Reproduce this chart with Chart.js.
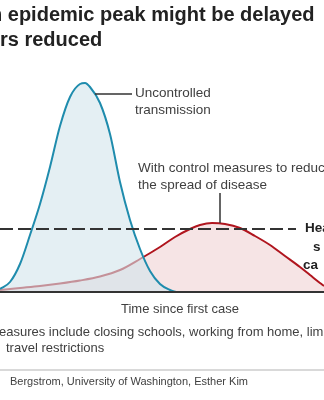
<!DOCTYPE html>
<html>
<head>
<meta charset="utf-8">
<script src="https://cdn.jsdelivr.net/npm/chart.js@4.4.1/dist/chart.umd.min.js"></script>
<style>
  html, body { margin: 0; padding: 0; background: #fff; }
  #wrap { position: relative; width: 324px; height: 400px; }
</style>
</head>
<body>
<div id="wrap"><canvas id="c" width="324" height="400"></canvas></div>
<script>
// Time axis (arbitrary units since first case)
const timeUncontrolled = [0, 10, 20, 30, 40, 50, 60, 70, 80, 85, 90, 100, 110, 120, 130, 140, 150, 160, 170, 176];
const casesUncontrolled = [3, 10, 28, 57, 88, 125, 166, 195, 208, 209, 205, 189, 158, 110, 72, 43, 21, 8, 2, 0];

const timeControlled = [0, 20, 40, 60, 80, 100, 120, 140, 160, 175, 190, 200, 212, 225, 240, 255, 270, 285, 300, 310, 320, 324];
const casesControlled = [2, 4, 6, 8.5, 11.5, 15.5, 22, 33, 45, 55, 63, 67, 69, 68, 64, 56, 47, 36, 25, 17, 9, 6];

// Healthcare system capacity level
const capacityTime = [0, 296];
const capacityLevel = [63, 63];

const toPoints = (xs, ys) => xs.map((x, i) => ({ x: x, y: ys[i] }));

const INK = '#333333';
const TEXT = '#404040';

const overlay = {
  id: 'overlay',
  afterDatasetsDraw(chart) {
    const { ctx } = chart;
    const xs = chart.scales.x, ys = chart.scales.y;
    const px = v => xs.getPixelForValue(v);
    const py = v => ys.getPixelForValue(v);
    ctx.save();
    // baseline
    ctx.strokeStyle = INK;
    ctx.lineWidth = 2;
    ctx.beginPath();
    ctx.moveTo(0, py(0));
    ctx.lineTo(chart.width, py(0));
    ctx.stroke();
    // annotation leaders
    ctx.lineWidth = 1.5;
    ctx.beginPath();
    ctx.moveTo(px(95), py(198));
    ctx.lineTo(px(132), py(198));
    ctx.moveTo(px(220), py(69));
    ctx.lineTo(px(220), py(99));
    ctx.stroke();
    ctx.restore();
  },
  afterDraw(chart) {
    const { ctx } = chart;
    ctx.save();
    ctx.textBaseline = 'alphabetic';
    ctx.fillStyle = '#222222';
    ctx.font = 'bold 20px "Liberation Sans", Arial, sans-serif';
    ctx.textAlign = 'left';
    ctx.fillText('n epidemic peak might be delayed', -10, 21);
    ctx.fillText('rs reduced', 0, 46);

    ctx.fillStyle = TEXT;
    ctx.textBaseline = 'middle';
    ctx.font = '13.5px "Liberation Sans", Arial, sans-serif';
    ctx.fillText('Uncontrolled', 135, 93);
    ctx.fillText('transmission', 135, 110);
    ctx.fillText('With control measures to reduce', 138, 168);
    ctx.fillText('the spread of disease', 138, 185);

    ctx.font = '13px "Liberation Sans", Arial, sans-serif';
    ctx.textAlign = 'center';
    ctx.fillText('Time since first case', 180, 309);

    ctx.textAlign = 'left';
    ctx.fillText('easures include closing schools, working from home, lim', -1, 332);
    ctx.fillText('travel restrictions', 6, 348);

    ctx.fillStyle = '#222222';
    ctx.font = 'bold 13.5px "Liberation Sans", Arial, sans-serif';
    ctx.fillText('Hea', 305, 228);
    ctx.fillText('s', 313, 247);
    ctx.fillText('ca', 303, 265);

    // footer rule and source
    ctx.strokeStyle = '#cccccc';
    ctx.lineWidth = 1.5;
    ctx.beginPath();
    ctx.moveTo(0, 370);
    ctx.lineTo(chart.width, 370);
    ctx.stroke();

    ctx.fillStyle = TEXT;
    ctx.font = '11px "Liberation Sans", Arial, sans-serif';
    ctx.fillText('Bergstrom, University of Washington, Esther Kim', 10, 382);
    ctx.restore();
  }
};

new Chart(document.getElementById('c'), {
  type: 'line',
  data: {
    datasets: [
      {
        label: 'Uncontrolled transmission',
        data: toPoints(timeUncontrolled, casesUncontrolled),
        borderColor: '#1f8cad',
        borderWidth: 2,
        backgroundColor: 'rgba(210,228,235,0.6)',
        fill: 'origin',
        cubicInterpolationMode: 'monotone',
        pointRadius: 0,
        order: 1
      },
      {
        label: 'With control measures',
        data: toPoints(timeControlled, casesControlled),
        borderColor: '#b0151e',
        borderWidth: 2,
        backgroundColor: '#f6e4e5',
        fill: 'origin',
        cubicInterpolationMode: 'monotone',
        pointRadius: 0,
        order: 2
      },
      {
        label: 'Healthcare system capacity',
        data: toPoints(capacityTime, capacityLevel),
        borderColor: INK,
        borderWidth: 2,
        borderDash: [13, 5],
        fill: false,
        pointRadius: 0,
        order: 0
      }
    ]
  },
  options: {
    responsive: false,
    animation: false,
    devicePixelRatio: 1,
    layout: { padding: { left: 0, right: 0, top: 72, bottom: 108 } },
    plugins: { legend: { display: false }, tooltip: { enabled: false } },
    scales: {
      x: { type: 'linear', min: 0, max: 324, display: false },
      y: { type: 'linear', min: 0, max: 220, display: false }
    }
  },
  plugins: [overlay]
});
</script>
</body>
</html>
